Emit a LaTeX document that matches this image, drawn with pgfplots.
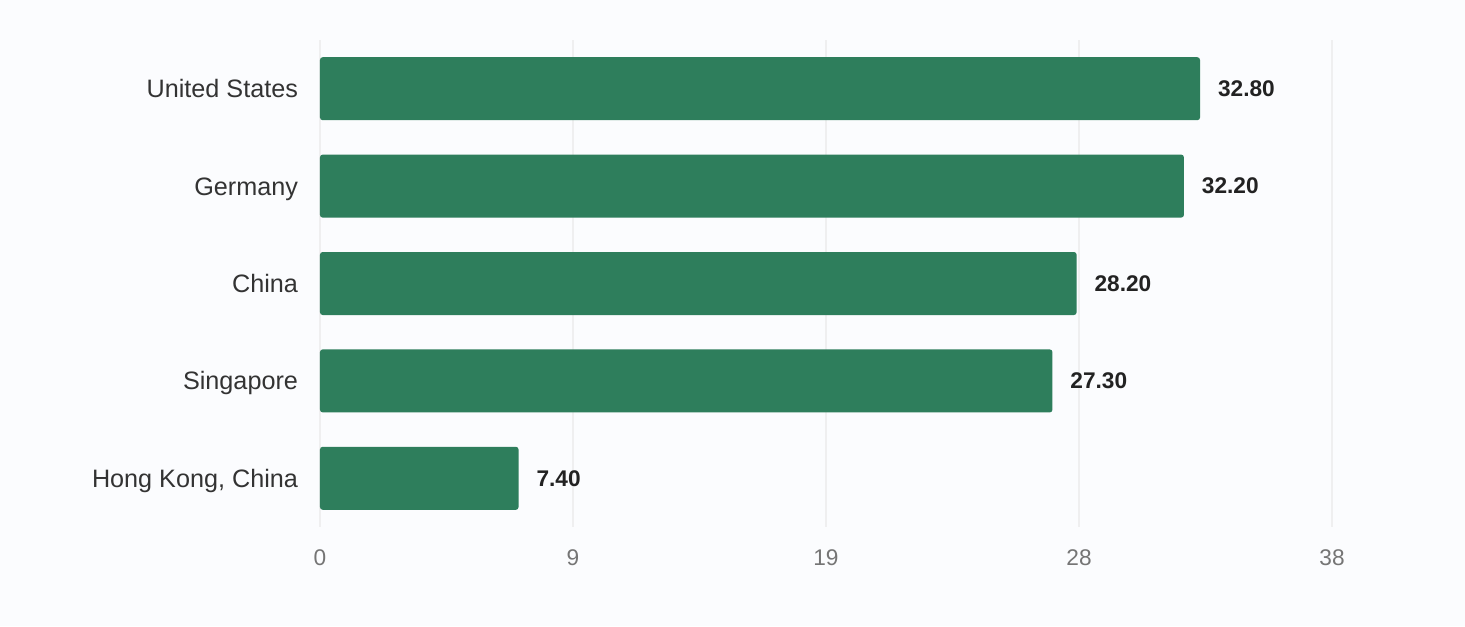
\documentclass[border=0pt]{standalone}
\usepackage{pgfplots}
\pgfplotsset{compat=1.18}
\usepackage{fontspec}
\setmainfont{Liberation Sans}
\definecolor{bgcol}{RGB}{251,252,254}
\definecolor{barcol}{RGB}{46,126,92}
\definecolor{catcol}{RGB}{51,51,51}
\definecolor{tickcol}{RGB}{117,117,117}
\definecolor{valcol}{RGB}{34,34,34}
\definecolor{gridcol}{RGB}{239,239,240}

\begin{document}
\begin{tikzpicture}
    % Canvas, 1px = 0.75pt
    \fill[bgcol] (0,0) rectangle (1098.75pt,469.5pt);
    \begin{axis}[
        at={(240pt,74.25pt)}, anchor=south west,
        scale only axis,
        width=759pt, height=365.25pt,
        xbar, bar width=47.25pt,
        xmin=0, xmax=37.72,
        ymin=-0.5, ymax=4.5,
        y dir=reverse,
        xtick={0,9.43,18.86,28.29,37.72},
        xticklabels={0,9,19,28,38},
        ytick={0,1,2,3,4},
        yticklabels={United States,Germany,China,Singapore,{Hong Kong, China}},
        xmajorgrids,
        major grid style={gridcol, line width=1.1pt},
        axis line style={draw=none},
        major tick length=0pt,
        xticklabel style={font=\fontsize{17}{20}\selectfont, text=tickcol},
        yticklabel style={font=\fontsize{18.9}{22}\selectfont, text=catcol},
        x tick label style={yshift=-13.75pt},
        y tick label style={anchor=base east, xshift=-13pt, yshift=-6.75pt},
        nodes near coords={\pgfmathprintnumber[fixed,fixed zerofill,precision=2,assume math mode=true]{\pgfplotspointmeta}},
        nodes near coords style={anchor=west, xshift=10pt, font=\bfseries\fontsize{17}{20}\selectfont, text=valcol},
        clip=false,
    ]
    \addplot[draw=none, fill=barcol, rounded corners=2pt] coordinates {
        (32.8,0)
        (32.2,1)
        (28.2,2)
        (27.3,3)
        (7.4,4)
    };
    \end{axis}
\end{tikzpicture}
\end{document}
